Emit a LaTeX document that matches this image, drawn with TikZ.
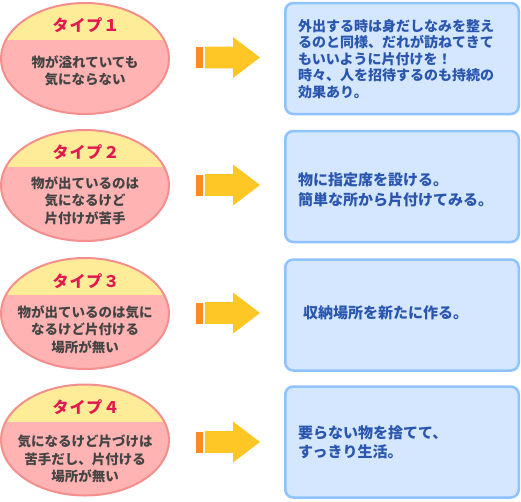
\documentclass[tikz,border=0pt]{standalone}
\usepackage{fontspec}
\setmainfont{Noto Sans CJK JP}
\usetikzlibrary{shapes.geometric}
\definecolor{pinkfill}{HTML}{FFB3B3}
\definecolor{pinkline}{HTML}{F48F8D}
\definecolor{bandyellow}{HTML}{FFEC98}
\definecolor{titlered}{HTML}{E2194E}
\definecolor{bodygray}{HTML}{444444}
\definecolor{boxfill}{HTML}{D4E7FF}
\definecolor{boxline}{HTML}{8EC3FF}
\definecolor{boxtext}{HTML}{2A56AE}
\definecolor{arrowor}{HTML}{FF8A1E}
\definecolor{arrowye}{HTML}{FFC726}
\tikzset{
  typeell/.style={ellipse, draw=pinkline, line width=2pt, fill=pinkfill,
    minimum width=168pt, minimum height=111pt, inner sep=0pt,
    path picture={\fill[bandyellow] (path picture bounding box.north west)
      rectangle ([yshift=-37pt]path picture bounding box.north east);}},
  titletext/.style={text=titlered, inner sep=0pt,
    font={\fontsize{16}{18}\selectfont\bfseries\addfontfeatures{LetterSpace=6}}},
  bodytext/.style={text=bodygray, inner sep=0pt, align=center,
    font={\fontsize{13.5}{17.5}\selectfont\bfseries}},
  answerbox/.style={draw=boxline, line width=2.5pt, fill=boxfill,
    rounded corners=8pt, minimum width=233.5pt, minimum height=111pt, inner sep=0pt},
  answertext/.style={text=boxtext, inner sep=0pt, align=left, anchor=west,
    font={\fontsize{15}{19.5}\selectfont\bfseries}},
  blockarrow/.pic={
    \fill[arrowor] (-32,-10.5) rectangle (-25,10.5);
    \fill[arrowye] (-23,-10.8) -- (5,-10.8) -- (5,-20.5) -- (32,0)
      -- (5,20.5) -- (5,10.8) -- (-23,10.8) -- cycle;
  }
}
\begin{document}
\begin{tikzpicture}[x=1pt,y=-1pt]
\useasboundingbox[fill=white] (0,0) rectangle (521,501);

% type ellipses
\node[typeell] (e1) at (85,58.5) {};
\node[typeell] (e2) at (85,185.5) {};
\node[typeell] (e3) at (85,313.5) {};
\node[typeell] (e4) at (85,440) {};

\node[titletext] (t1) at (86,25) {タイプ１};
\node[titletext] (t2) at (86,152) {タイプ２};
\node[titletext] (t3) at (86,281) {タイプ３};
\node[titletext] (t4) at (86,407) {タイプ４};

\node[bodytext] (b1) at (85,71) {物が溢れていても\\気にならない};
\node[bodytext] (b2) at (85,200.5) {物が出ているのは\\気になるけど\\片付けが苦手};
\node[bodytext] (b3) at (85,329.5) {物が出ているのは気に\\なるけど片付ける\\場所が無い};
\node[bodytext] (b4) at (85,459) {気になるけど片づけは\\苦手だし、片付ける\\場所が無い};

% arrows
\coordinate (a1) at (228,57.5);
\coordinate (a2) at (228,185);
\coordinate (a3) at (228,313);
\coordinate (a4) at (228,442);
\pic at (a1) {blockarrow};
\pic at (a2) {blockarrow};
\pic at (a3) {blockarrow};
\pic at (a4) {blockarrow};

% answer boxes
\node[answerbox] (r1) at (402,58.5) {};
\node[answerbox] (r2) at (402,186.5) {};
\node[answerbox] (r3) at (402,315) {};
\node[answerbox] (r4) at (402,442) {};

\node[answertext, font={\fontsize{14}{16.5}\selectfont\bfseries}] (s1) at (298,59)
  {外出する時は身だしなみを整え\\るのと同様、だれが訪ねてきて\\もいいように片付けを！\\時々、人を招待するのも持続の\\効果あり。};
\node[answertext] (s2) at (298,190) {物に指定席を設ける。\\簡単な所から片付けてみる。};
\node[answertext] (s3) at (303,313) {収納場所を新たに作る。};
\node[answertext] (s4) at (298,442.5) {要らない物を捨てて、\\すっきり生活。};
\end{tikzpicture}
\end{document}
